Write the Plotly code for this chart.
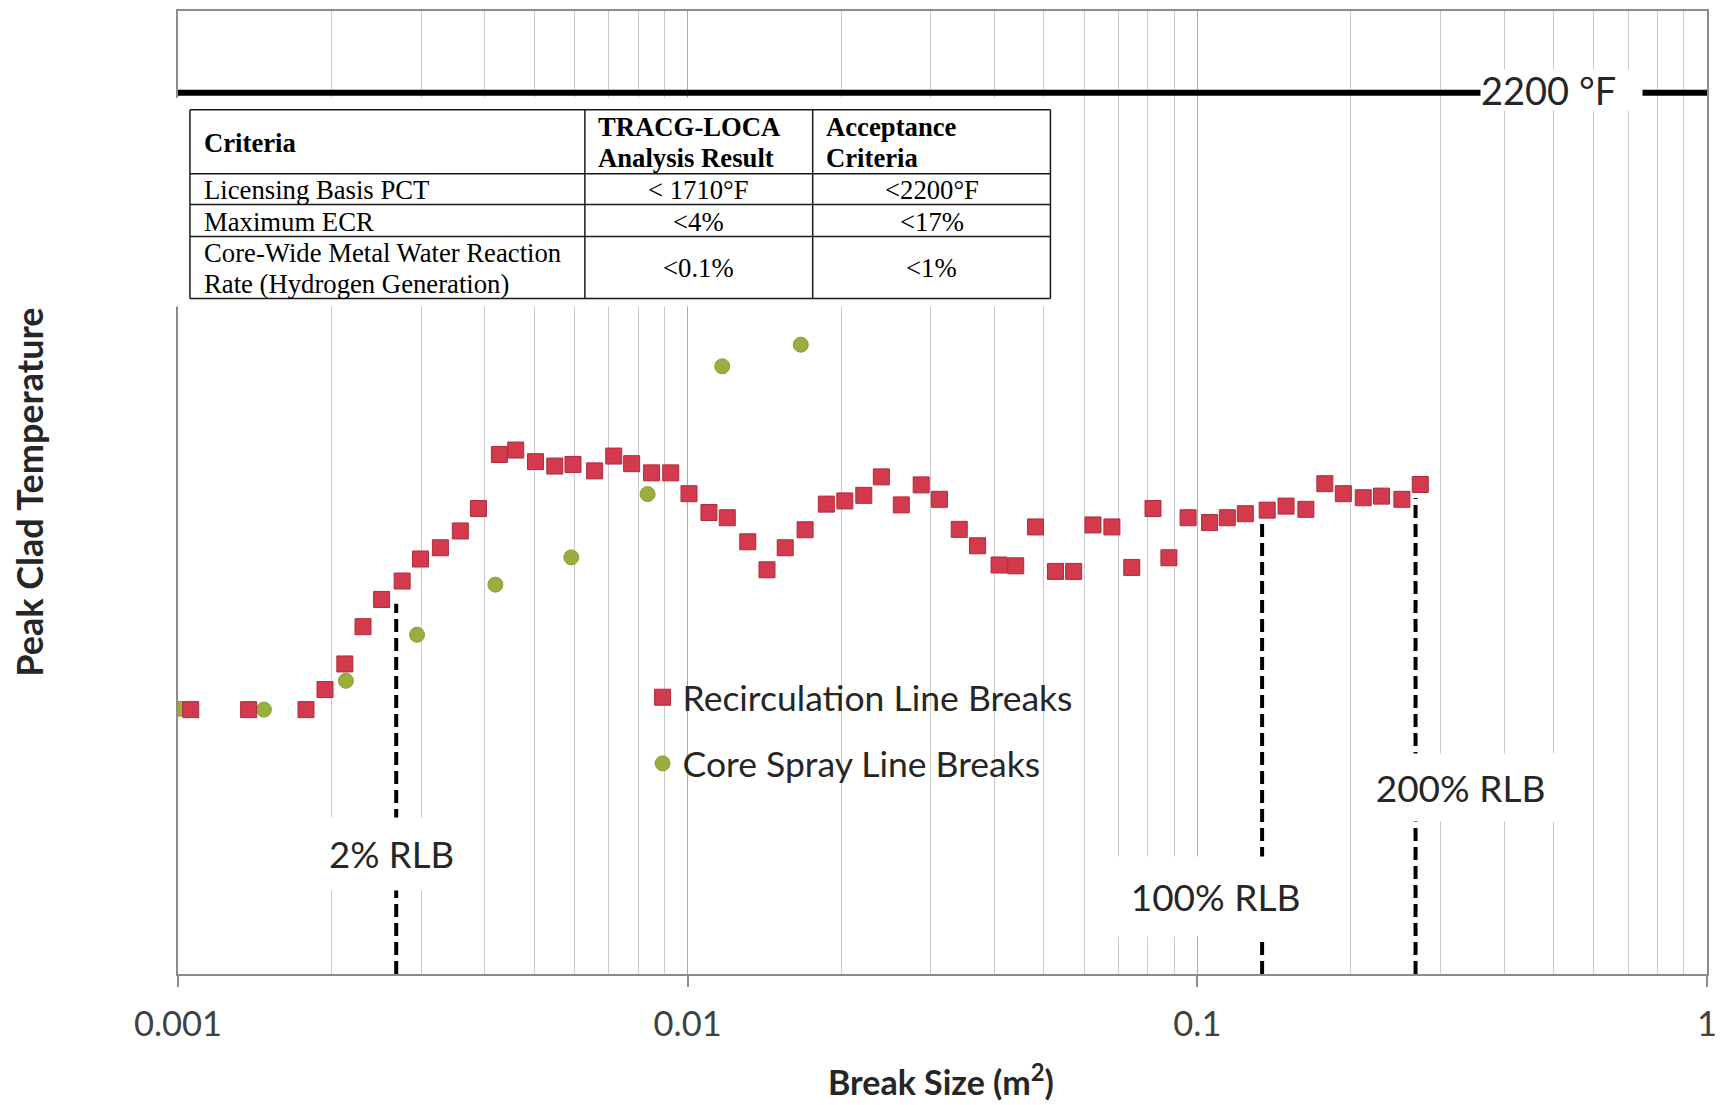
import numpy as np
import plotly.graph_objects as go

# ---------------- data ----------------
recirc_break_size = [0.001059, 0.001376, 0.001783, 0.001943, 0.002125, 0.002307, 0.002509, 0.002753,
                     0.002991, 0.003272, 0.003580, 0.003886, 0.004271, 0.004599, 0.005028, 0.005486,
                     0.005956, 0.006568, 0.007161, 0.007764, 0.008496, 0.009264, 0.01006, 0.01101,
                     0.01196, 0.01312, 0.01431, 0.01554, 0.01700, 0.01871, 0.02034, 0.02216,
                     0.02399, 0.02625, 0.02872, 0.03118, 0.03411, 0.03705, 0.04083, 0.04402,
                     0.04815, 0.05268, 0.05719, 0.06241, 0.06798, 0.07436, 0.08185, 0.08795,
                     0.09591, 0.1057, 0.1145, 0.1242, 0.1371, 0.1493, 0.1633, 0.1779,
                     0.1934, 0.2116, 0.2298, 0.2520, 0.2738]
recirc_pct = [660, 660, 660, 710, 774, 867, 935, 981,
              1036, 1064, 1106, 1162, 1297, 1308, 1279, 1268,
              1272, 1256, 1293, 1274, 1251, 1251, 1199, 1152,
              1139, 1079, 1009, 1064, 1109, 1173, 1181, 1195,
              1241, 1171, 1221, 1185, 1110, 1069, 1021, 1019,
              1116, 1005, 1005, 1121, 1116, 1015, 1162, 1039,
              1139, 1127, 1139, 1149, 1158, 1168, 1160, 1224,
              1199, 1189, 1193, 1185, 1222]

core_spray_break_size = [0.001006, 0.001474, 0.002135, 0.002945, 0.004195, 0.005911, 0.008344, 0.01169, 0.01667]
core_spray_pct = [662, 660, 732, 847, 972, 1040, 1198, 1517, 1571]

x_tick_vals = [0.001, 0.01, 0.1, 1]
x_tick_text = ["0.001", "0.01", "0.1", "1"]
x_minor_vals = [m * d for d in (0.001, 0.01, 0.1) for m in range(2, 10)]

limit_pct = 2200
limit_label = "2200 °F"

rlb_labels = ["2% RLB", "100% RLB", "200% RLB"]
rlb_break_size = [0.00268, 0.134, 0.268]
rlb_pct_top = [924, 1124, 1188]

table_header = ["Criteria", "TRACG-LOCA<br>Analysis Result", "Acceptance<br>Criteria"]
table_rows = [
    ["Licensing Basis PCT", "< 1710°F", "<2200°F"],
    ["Maximum ECR", "<4%", "<17%"],
    ["Core-Wide Metal Water Reaction<br>Rate (Hydrogen Generation)", "<0.1%", "<1%"],
]

# ---------------- layout geometry (pixels) ----------------
FIG_W, FIG_H = 1726, 1105
PL, PR, PT, PB = 178, 1715, 9, 974
Y_RANGE = [0, 2404]


def pxx(x):
    return (x - PL) / (PR - PL)


def pxy(y):
    return (PB - y) / (PB - PT)


SANS = "Lato, Carlito, Calibri, sans-serif"
SERIF = "Liberation Serif, Times New Roman, serif"
TXT = "#262626"

fig = go.Figure()

# RLB dashed lines
for xv, top in zip(rlb_break_size, rlb_pct_top):
    fig.add_trace(go.Scatter(x=[xv, xv], y=[Y_RANGE[0], top], mode="lines",
                             line=dict(color="black", width=4, dash="13px,6px"),
                             showlegend=False, hoverinfo="skip"))

fig.add_trace(go.Scatter(x=core_spray_break_size, y=core_spray_pct, mode="markers",
                         name="Core Spray Line Breaks", legendgroup="cs", legendrank=2,
                         marker=dict(symbol="circle", size=15, color="#9AAE3E",
                                     line=dict(color="#8A9E34", width=1))))
fig.add_trace(go.Scatter(x=recirc_break_size, y=recirc_pct, mode="markers",
                         name="Recirculation Line Breaks", legendgroup="rc", legendrank=1,
                         marker=dict(symbol="square", size=16, color="#D43A4D",
                                     line=dict(color="#B02A3C", width=1))))

shapes = []
annotations = []

# white box behind legend (covers gridlines)
shapes.append(dict(type="rect", xref="paper", yref="paper", x0=pxx(590), x1=pxx(1140),
                   y0=pxy(800), y1=pxy(663), fillcolor="white", line=dict(width=0), layer="between"))

# 2200 F limit line
shapes.append(dict(type="line", xref="paper", yref="y", x0=0, x1=1, y0=limit_pct, y1=limit_pct,
                   line=dict(color="black", width=6), layer="above"))
annotations.append(dict(xref="paper", yref="y", x=pxx(1568.5), y=limit_pct, yshift=3,
                        xanchor="center", yanchor="middle",
                        text=limit_label, showarrow=False, bgcolor="white", width=161, height=40,
                        align="left", borderpad=0,
                        font=dict(family=SANS, size=38, color=TXT)))

# table background, borders and text
shapes.append(dict(type="rect", xref="paper", yref="paper", x0=pxx(168), x1=pxx(1072),
                   y0=pxy(305), y1=pxy(96), fillcolor="white", line=dict(width=0), layer="above"))
col_edges = [190, 587, 816, 1055]
row_edges = [108, 172, 203, 235, 297]
for ry in row_edges:
    shapes.append(dict(type="line", xref="paper", yref="paper", x0=pxx(col_edges[0]), x1=pxx(col_edges[-1]),
                       y0=pxy(ry), y1=pxy(ry), line=dict(color="#1a1a1a", width=1.5), layer="above"))
for cx in col_edges:
    shapes.append(dict(type="line", xref="paper", yref="paper", x0=pxx(cx), x1=pxx(cx),
                       y0=pxy(row_edges[0]), y1=pxy(row_edges[-1]), line=dict(color="#1a1a1a", width=1.5),
                       layer="above"))

LINE_SP = 31


def cell_text(text, ci, ri, bold):
    lines = text.split("<br>")
    yc = (row_edges[ri] + row_edges[ri + 1]) / 2 + 1
    n = len(lines)
    left = ci == 0 or ri == 0
    for k, ln in enumerate(lines):
        yy = yc + (k - (n - 1) / 2) * LINE_SP
        t = ln.replace("<", "&lt;")
        if bold:
            t = "<b>" + t + "</b>"
        if left:
            xx = col_edges[ci] + (12 if ci == 0 else 11)
            xa = "left"
        else:
            xx = (col_edges[ci] + col_edges[ci + 1]) / 2
            xa = "center"
        annotations.append(dict(xref="paper", yref="paper", x=pxx(xx), y=pxy(yy), xanchor=xa,
                                yanchor="middle", text=t, showarrow=False,
                                font=dict(family=SERIF, size=26.7, color="black")))


for ci, h in enumerate(table_header):
    cell_text(h, ci, 0, True)
for ri, row in enumerate(table_rows):
    for ci, v in enumerate(row):
        cell_text(v, ci, ri + 1, False)

# RLB labels (white text boxes)
rlb_label_geom = [  # (xshift px, y center px, box width, box height, font size)
    (-5, 854, 145, 70, 36.5),
    (-47, 896, 195, 77, 37),
    (45, 787, 195, 65, 37),
]
for lab, xv, (xs, yc, bw, bh, fs) in zip(rlb_labels, rlb_break_size, rlb_label_geom):
    annotations.append(dict(xref="x", yref="paper", x=np.log10(xv), y=pxy(yc), xshift=xs,
                            xanchor="center", yanchor="middle",
                            text=lab, showarrow=False, bgcolor="white", width=bw, height=bh,
                            font=dict(family=SANS, size=fs, color=TXT)))

# axis titles
annotations.append(dict(xref="paper", yref="paper", x=pxx(945), y=pxy(1080),
                        xanchor="center", yanchor="middle",
                        text="<b>Break Size (m<sup>2</sup>)</b>", showarrow=False,
                        font=dict(family=SANS, size=34, color=TXT)))
annotations.append(dict(xref="paper", yref="paper", x=pxx(28), y=pxy(491), textangle=-90,
                        xanchor="center", yanchor="middle",
                        text="<b>Peak Clad Temperature</b>", showarrow=False,
                        font=dict(family=SANS, size=36, color=TXT)))

fig.update_layout(
    width=FIG_W, height=FIG_H,
    margin=dict(l=PL, r=FIG_W - PR, t=PT, b=FIG_H - PB, pad=0),
    paper_bgcolor="white", plot_bgcolor="white",
    shapes=shapes, annotations=annotations,
    showlegend=True,
    legend=dict(x=pxx(645), y=pxy(667), xanchor="left", yanchor="top",
                bgcolor="rgba(0,0,0,0)", tracegroupgap=17,
                font=dict(family=SANS, size=35.5, color=TXT)),
    xaxis=dict(type="log", range=[-3, 0], tickvals=x_tick_vals, ticktext=x_tick_text,
               ticks="outside", ticklen=11, tickcolor="#8C8C8C", tickwidth=1.5,
               ticklabelstandoff=8,
               showgrid=True, gridcolor="#A8A8A8", gridwidth=1,
               minor=dict(tickvals=x_minor_vals, showgrid=True, gridcolor="#CACACA", gridwidth=1, ticks=""),
               showline=True, linecolor="#8C8C8C", linewidth=1.5, mirror=True,
               tickfont=dict(family=SANS, size=34.5, color="#404040"), zeroline=False),
    yaxis=dict(range=Y_RANGE, showticklabels=False, ticks="", showgrid=False, zeroline=False,
               showline=True, linecolor="#8C8C8C", linewidth=1.5, mirror=True),
)

fig.write_html("out.html")
